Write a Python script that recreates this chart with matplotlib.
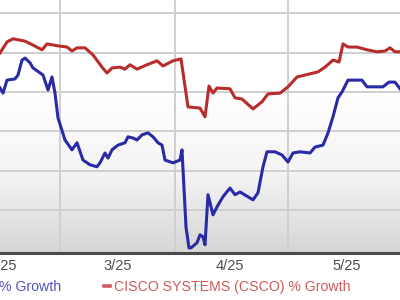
import numpy as np
import matplotlib
matplotlib.use('Agg')
import matplotlib.pyplot as plt
from matplotlib.colors import LinearSegmentedColormap

plt.rcParams['font.family'] = ['Liberation Sans', 'DejaVu Sans']

# day offsets and % growth
csco_x = [0, 1.75, 3.25, 6.25, 8.25, 10.5, 11.75, 14.5, 16.75, 18, 19.25, 21.25,
          23.25, 25.5, 26.75, 28, 30, 31.25, 32.5, 34.25, 36.75, 39.25, 40.75,
          43.25, 45.25, 47, 50, 51.25, 52.25, 53.25, 54.25, 57.5, 58.75, 60.5,
          63.25, 65.5, 67, 70, 72, 74.25, 77.5, 79.5, 81.25, 83.25, 84.75, 85.75,
          87, 89.25, 91.75, 94.25, 96.25, 97.5, 98.75, 100]
csco_y = [9.9, 12.7, 13.5, 12.9, 11.9, 10.7, 12.2, 11.7, 11.4, 10.4, 11.2, 11.2,
          9.4, 6.3, 4.8, 6.1, 6.3, 5.8, 6.9, 5.8, 6.9, 7.9, 6.6,
          7.9, 8.4, -3.8, -4.1, -6.3, 1.5, -0.3, 1.0, 0.8, -1.5, -1.8,
          -4.3, -2.5, -0.5, -0.3, 1.3, 3.8, 4.6, 5.1, 6.3, 8.1, 7.6, 12.2,
          11.4, 11.4, 10.7, 10.2, 10.4, 11.2, 10.2, 10.2]

other_x = [0, 0.75, 1.75, 3.75, 4.5, 5.5, 6.25, 7.5, 8.25, 10.75, 12, 13, 13.75,
           14.5, 16.25, 18, 19.25, 20.75, 22.5, 24.25, 25, 26.25, 27, 28, 29.5,
           31.25, 32, 33.25, 34.25, 35.5, 37, 38.25, 39.5, 40.5, 41.25, 43.25,
           45, 45.5, 46.5, 47.25, 47.75, 49.25, 50, 50.75, 51.25, 52, 53.25,
           54.25, 55.75, 57.5, 58.75, 60, 63.25, 64.5, 65.75, 66.75, 68.75, 70.5,
           72, 73.25, 75, 77.5, 78.75, 80.75, 82, 83.25, 84.5, 85.5, 87, 90.5,
           91.75, 95.75, 97.25, 98.75, 100]
other_y = [1.0, -0.3, 3.0, 3.3, 4.3, 8.1, 8.6, 7.4, 6.1, 4.3, 0.5, 3.8, -0.3,
           -6.6, -12.2, -14.7, -12.9, -17.3, -18.5, -19.0, -18.0, -15.5, -16.8, -14.7, -13.5,
           -12.9, -11.4, -11.7, -12.2, -10.9, -10.4, -11.4, -12.9, -13.5, -17.3, -18.0,
           -17.3, -14.7, -34.3, -39.6, -39.6, -38.3, -36.3, -36.8, -38.8, -26.1, -31.2,
           -29.2, -26.6, -24.4, -26.1, -25.4, -27.4, -25.6, -19.0, -15.2, -15.2, -16.0,
           -17.8, -15.5, -15.2, -15.5, -14.0, -13.5, -10.4, -6.3, -1.5, 0.0, 3.0, 3.0,
           1.3, 1.3, 2.5, 2.5, 0.8]

month_pos = [0.6, 29.5, 57.5, 86.75]
month_labels = ['2/25', '3/25', '4/25', '5/25']
grid_x = [15, 43.75, 72]
grid_y = [-30, -20, -10, 0, 10, 20]

fig = plt.figure(figsize=(4, 3), dpi=100)
ax = fig.add_axes([0, 47 / 300, 1, 253 / 300])
ylo, yhi = -40.9, 23.35
ax.set_xlim(0, 100)
ax.set_ylim(ylo, yhi)

# grey-to-white backdrop
cmap = LinearSegmentedColormap.from_list('bg', ['#d6d6d6', '#f4f4f4', '#ffffff'])
grad = np.clip(np.linspace(0, 1.6, 256), 0, 1).reshape(-1, 1)
ax.imshow(grad, extent=[0, 100, yhi, ylo], aspect='auto', cmap=cmap, zorder=-1)

for gx in grid_x:
    ax.axvline(gx, color='#cfcfcf', lw=1.4, zorder=0.5)
for gy in grid_y:
    ax.axhline(gy, color='#cfcfcf', lw=1.4, zorder=0.5)

l1, = ax.plot(other_x, other_y, color='#2a2aa6', lw=2.2, label='% Growth')
l2, = ax.plot(csco_x, csco_y, color='#b82c2c', lw=2.2,
              label='CISCO SYSTEMS (CSCO) % Growth')

for s in ['top', 'left', 'right']:
    ax.spines[s].set_visible(False)
ax.spines['bottom'].set_color('#4a4a4a')
ax.spines['bottom'].set_linewidth(2.2)
ax.set_yticks([])
ax.set_xticks(month_pos)
ax.set_xticklabels(month_labels)
ax.tick_params(axis='x', length=0, pad=4, labelsize=10.5, labelcolor='#4d4d4d')

leg = fig.legend(handles=[l1, l2], loc='center right', bbox_to_anchor=(351 / 400, 13 / 300),
                 ncol=2, frameon=False, fontsize=10.2, handlelength=0.4,
                 handletextpad=0.35, columnspacing=3.0, borderaxespad=0, borderpad=0)
for h in leg.legend_handles:
    h.set_linewidth(2.6)
    h.set_color('#d05a5a')
leg.get_texts()[0].set_color('#5454b8')
leg.get_texts()[1].set_color('#d05a5a')

fig.savefig('out.png', dpi=100)
